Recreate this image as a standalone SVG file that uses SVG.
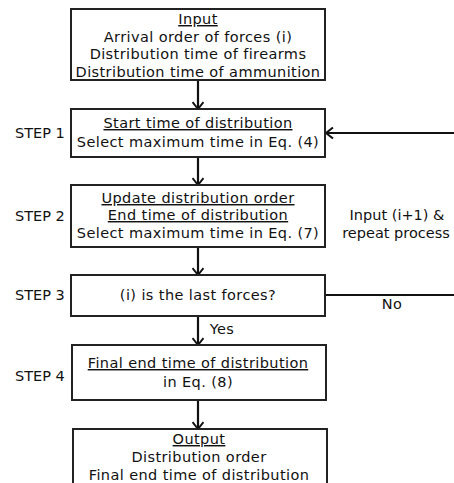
<svg xmlns="http://www.w3.org/2000/svg" width="454" height="483" viewBox="0 0 454 483">
<defs>
<style>
text{font-family:"DejaVu Sans","Liberation Sans",sans-serif;font-size:14.5px;fill:#111;letter-spacing:0.4px}
.c{text-anchor:middle}
.u{text-decoration:underline}
.s{letter-spacing:0}
.box{fill:#fff;stroke:#222;stroke-width:2}
.con{fill:none;stroke:#111;stroke-width:2.2}
</style>
<marker id="ah" viewBox="0 0 12 12" refX="10" refY="6" markerWidth="12" markerHeight="12" markerUnits="userSpaceOnUse" orient="auto">
<path d="M3,0.5 L10,6 L3,11.5" fill="none" stroke="#111" stroke-width="2"/>
</marker>
</defs>
<rect width="454" height="483" fill="#fff"/>
<g id="connectors">
<line class="con" x1="198" y1="80" x2="198" y2="109" marker-end="url(#ah)"/>
<line class="con" x1="198" y1="157" x2="198" y2="185" marker-end="url(#ah)"/>
<line class="con" x1="198" y1="247" x2="198" y2="275" marker-end="url(#ah)"/>
<line class="con" x1="198" y1="316" x2="198" y2="345" marker-end="url(#ah)"/>
<line class="con" x1="198" y1="400" x2="198" y2="429" marker-end="url(#ah)"/>
<path class="con" d="M325,295 H460 V133 H326" marker-end="url(#ah)"/>
<text class="c" x="222" y="334">Yes</text>
<text class="c" x="392" y="309">No</text>
<text class="c s" x="397" y="220">Input (i+1) &amp;</text>
<text class="c s" x="396" y="238">repeat process</text>
</g>
<g id="input">
<rect class="box" x="71" y="9" width="254" height="71"/>
<text class="c u" x="198" y="24">Input</text>
<text class="c" x="198" y="41.5">Arrival order of forces (i)</text>
<text class="c" x="198" y="59">Distribution time of firearms</text>
<text class="c" x="198" y="76.5">Distribution time of ammunition</text>
</g>
<g id="step1">
<text class="s" x="15" y="138">STEP 1</text>
<rect class="box" x="71" y="109" width="254" height="48"/>
<text class="c u" x="198" y="128">Start time of distribution</text>
<text class="c" x="198" y="147">Select maximum time in Eq. (4)</text>
</g>
<g id="step2">
<text class="s" x="15" y="221">STEP 2</text>
<rect class="box" x="71" y="185" width="254" height="62"/>
<text class="c u" x="198" y="203">Update distribution order</text>
<text class="c u" x="198" y="220">End time of distribution</text>
<text class="c" x="198" y="238">Select maximum time in Eq. (7)</text>
</g>
<g id="step3">
<text class="s" x="15" y="300">STEP 3</text>
<rect class="box" x="71" y="275" width="254" height="41"/>
<text class="c" x="198" y="300">(i) is the last forces?</text>
</g>
<g id="step4">
<text class="s" x="15" y="381">STEP 4</text>
<rect class="box" x="72" y="345" width="254" height="55"/>
<text class="c u" x="198" y="368">Final end time of distribution</text>
<text class="c" x="198" y="387">in Eq. (8)</text>
</g>
<g id="output">
<rect class="box" x="73" y="429" width="254" height="60"/>
<text class="c u" x="199" y="444">Output</text>
<text class="c" x="199" y="462">Distribution order</text>
<text class="c" x="199" y="480">Final end time of distribution</text>
</g>
</svg>
